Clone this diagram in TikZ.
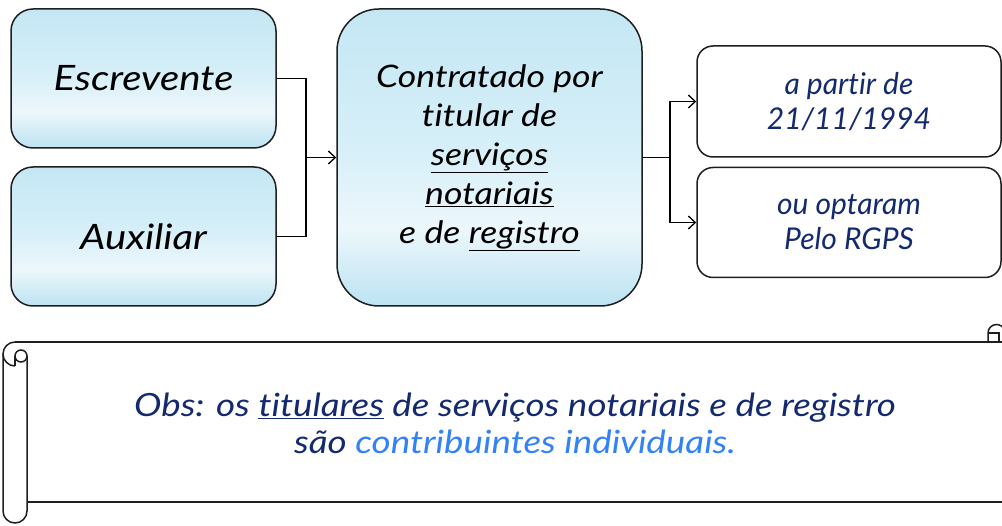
\documentclass[tikz,border=0pt]{standalone}
\usepackage{fontspec}
\setmainfont{Lato}[RawFeature=-liga]
\newfontfamily\widefont{Lato}[FakeStretch=1.15, RawFeature=-liga]
\usetikzlibrary{arrows.meta}
\definecolor{edge}{RGB}{30,30,30}
\definecolor{navy}{RGB}{20,42,110}
\definecolor{lblue}{RGB}{50,130,245}
\definecolor{sb}{RGB}{188,227,242}
\definecolor{sw}{RGB}{236,247,251}
\definecolor{sm}{RGB}{214,239,248}
\definecolor{st}{RGB}{196,231,244}
\pgfdeclareverticalshading{boxgrad}{100bp}{color(0bp)=(sb); color(25bp)=(sb); color(38bp)=(sw); color(52bp)=(sm); color(75bp)=(st); color(100bp)=(st)}
\tikzset{
  box/.style={draw=edge, line width=1.5pt, shading=boxgrad, shade, align=center, inner sep=0pt, text=black},
  wbox/.style={draw=edge, line width=1.5pt, rounded corners=16pt, fill=white, align=center, inner sep=0pt, text=navy,
    minimum width=304pt, font=\fontsize{30}{35}\selectfont\itshape},
  conn/.style={line width=1.3pt, draw=black},
  arr/.style={conn, -{Straight Barb[length=7pt,width=13pt,line width=1.3pt]}},
  sc/.style={line width=1.5pt, draw=edge},
}
\begin{document}
\begin{tikzpicture}[x=1pt,y=-1pt]
\useasboundingbox (0,0) rectangle (1002,526);
% left boxes
\node[box, rounded corners=22pt, minimum width=265pt, minimum height=139pt,
  font=\widefont\fontsize{35}{39}\selectfont\itshape] (esc) at (143.5,78.5) {Escrevente};
\node[box, rounded corners=22pt, minimum width=265pt, minimum height=139pt,
  font=\widefont\fontsize{35}{39}\selectfont\itshape] (aux) at (143.5,236.5) {Auxiliar};
% center box
\node[box, rounded corners=42pt, minimum width=305pt, minimum height=297pt,
  font=\widefont\fontsize{31}{39}\selectfont\itshape] (ctr) at (489.5,157.5)
  {Contratado por\\titular de\\\underline{serviços}\\\underline{notariais}\\e de \underline{registro}};
% right boxes
\node[wbox, minimum height=111pt] (rt) at (849,101.5) {a partir de\\21/11/1994};
\node[wbox, minimum height=110pt] (rb) at (849,222.5) {ou optaram\\Pelo RGPS};
% connectors
\coordinate (jl) at (306,157.5);
\coordinate (jr) at (670,157.5);
\draw[conn] (esc.east) -| (jl) |- (aux.east);
\draw[arr] (jl) -- (ctr.west);
\draw[conn] (ctr.east) -- (jr);
\draw[arr] (jr) |- (rt.west);
\draw[arr] (jr) |- (rb.west);
% scroll
\draw[sc] (15,342) -- (1002,342);
\draw[sc] (27,502) -- (1002,502);
\draw[sc] (15,366) arc[start angle=90,end angle=270,radius=12];
\draw[sc] (3,354) -- (3,511) arc[start angle=180,end angle=0,radius=12] -- (27,356);
\draw[sc] (21,356) circle[radius=6];
\draw[sc] (15,356) -- (15,366);
\draw[sc] (988,342) -- (988,333) arc[start angle=180,end angle=340,radius=8.5];
\draw[sc] (988,333) -- (999,333) -- (999,342);
% observation text
\node[align=center, text=navy, font=\widefont\fontsize{32}{37}\selectfont\itshape] (obs) at (515,423)
  {Obs: os \underline{titulares} de serviços notariais e de registro\\são {\color{lblue}contribuintes individuais.}};
\end{tikzpicture}
\end{document}
